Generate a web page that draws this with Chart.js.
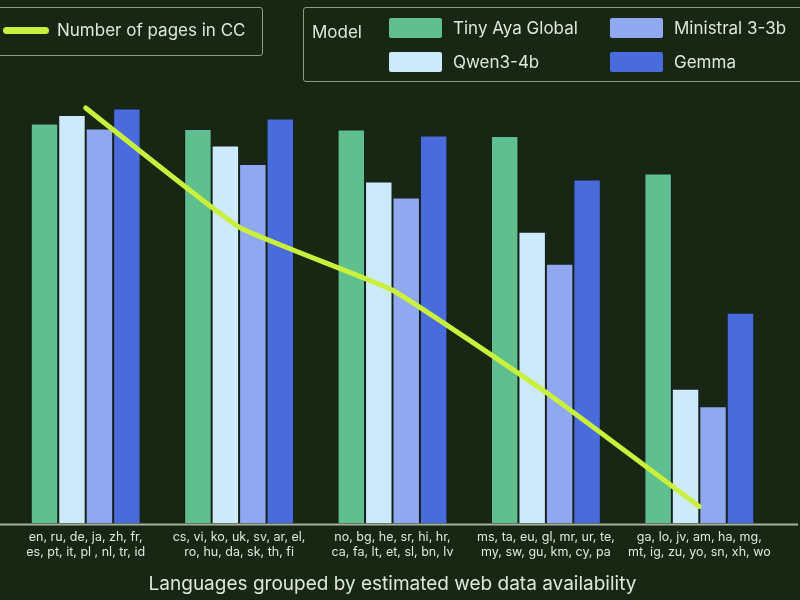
<!DOCTYPE html>
<html>
<head>
<meta charset="utf-8">
<script src="https://cdn.jsdelivr.net/npm/chart.js@4.4.1/dist/chart.umd.min.js"></script>
<style>
  body { margin: 0; background: #182614; font-family: Inter, "Noto Sans", sans-serif; }
  #wrap { position: relative; width: 800px; height: 600px; overflow: hidden; }
  .box { position: absolute; border: 1px solid #8c9a88; border-radius: 3px; color: #dfe8d8; font-size: 17px; }
  .item { position: absolute; display: flex; align-items: center; white-space: nowrap; }
  .sw { width: 53px; height: 20px; border-radius: 2px; margin-right: 11px; }
</style>
</head>
<body>
<div id="wrap">
  <canvas id="myChart"></canvas>
  <div class="box" id="pagesLegend" style="left:-10px; top:7px; width:271px; height:47px;"></div>
  <div class="box" id="modelLegend" style="left:303px; top:7px; width:510px; height:73px;"></div>
</div>
<script>
// categories (language groups, high -> low web data)
const groups = [
  ['en, ru, de, ja, zh, fr,', 'es, pt, it, pl , nl, tr, id'],
  ['cs, vi, ko, uk, sv, ar, el,', 'ro, hu, da, sk, th, fi'],
  ['no, bg, he, sr, hi, hr,', 'ca, fa, lt, et, sl, bn, lv'],
  ['ms, ta, eu, gl, mr, ur, te,', 'my, sw, gu, km, cy, pa'],
  ['ga, lo, jv, am, ha, mg,', 'mt, ig, zu, yo, sn, xh, wo']
];

const models = ['Tiny Aya Global', 'Qwen3-4b', 'Ministral 3-3b', 'Gemma'];
const modelColors = ['#5fbf8f', '#cdeafb', '#8fa8f0', '#4a6bdc'];

// scores (arbitrary units, no y axis shown)
const tinyAya   = [79.9, 78.8, 78.7, 77.4, 69.9];
const qwen      = [81.6, 75.5, 68.3, 58.3, 26.9];
const ministral = [78.9, 71.8, 65.1, 51.9, 23.4];
const gemma     = [82.9, 80.9, 77.5, 68.7, 42.1];

// relative number of pages in Common Crawl per group
const pagesInCC = [83.0, 59.2, 46.6, 26.2, 3.4];

const lineColor = '#c8f03c';
const textColor = '#dfe8d8';

// legends
document.getElementById('pagesLegend').innerHTML =
  '<div class="item" style="left:12px; top:12px;">' +
  '<span style="display:inline-block;width:46px;height:7px;border-radius:4px;background:' + lineColor + ';margin-right:8px"></span>' +
  'Number of pages in CC</div>';

const pos = [[85, 10], [85, 44], [306, 10], [306, 44]];
let html = '<div class="item" style="left:8px; top:14px;">Model</div>';
models.forEach((m, i) => {
  html += '<div class="item" style="left:' + pos[i][0] + 'px; top:' + pos[i][1] + 'px;">' +
    '<span class="sw" style="background:' + modelColors[i] + '"></span>' + m + '</div>';
});
document.getElementById('modelLegend').innerHTML = html;

const baseline = {
  id: 'baseline',
  afterDatasetsDraw(chart) {
    const c = chart.ctx;
    const y = chart.chartArea.bottom + 1;
    c.save();
    c.strokeStyle = '#a7b19f';
    c.lineWidth = 2;
    c.beginPath();
    c.moveTo(0, y);
    c.lineTo(798, y);
    c.stroke();
    c.restore();
  }
};

const barSets = [tinyAya, qwen, ministral, gemma].map((vals, i) => ({
  type: 'bar',
  label: models[i],
  data: vals,
  backgroundColor: modelColors[i],
  borderColor: 'rgba(20, 32, 40, 0.7)',
  borderWidth: 1,
  barPercentage: 1,
  categoryPercentage: 0.716,
  yAxisID: 'y',
  order: 1
}));

const ctx = document.getElementById('myChart').getContext('2d');
const myChart = new Chart(ctx, {
  data: {
    labels: groups,
    datasets: [
      {
        type: 'line',
        label: 'Number of pages in CC',
        data: pagesInCC,
        borderColor: lineColor,
        borderWidth: 5,
        borderCapStyle: 'round',
        borderJoinStyle: 'round',
        pointRadius: 0,
        tension: 0.12,
        yAxisID: 'y2',
        order: 0
      },
      ...barSets
    ]
  },
  options: {
    responsive: true,
    maintainAspectRatio: false,
    animation: false,
    layout: { padding: { left: 9, right: 24, top: 93, bottom: 4 } },
    plugins: { legend: { display: false }, tooltip: { enabled: false } },
    scales: {
      x: {
        grid: { display: false, drawTicks: false },
        border: { display: false },
        ticks: {
          color: textColor,
          font: { family: 'Inter', size: 12.5, lineHeight: 1.15 },
          padding: 7,
          maxRotation: 0,
          autoSkip: false
        },
        title: {
          display: true,
          text: 'Languages grouped by estimated web data availability',
          color: textColor,
          font: { family: 'Inter', size: 19 },
          padding: { top: 7, bottom: 0 }
        }
      },
      y: { display: false, min: 0, max: 86 },
      y2: { display: false, min: 0, max: 86 }
    }
  },
  plugins: [baseline]
});
</script>
</body>
</html>
